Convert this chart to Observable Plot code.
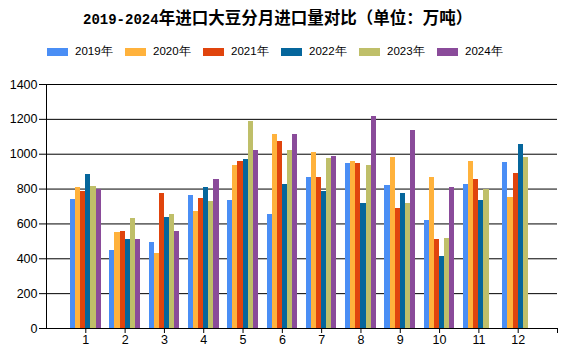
<!DOCTYPE html>
<html>
<head>
<meta charset="utf-8">
<script src="https://cdn.jsdelivr.net/npm/d3@7"></script>
<script src="https://cdn.jsdelivr.net/npm/@observablehq/plot@0.6"></script>
<style>
  body { margin: 0; background: #fff; }
  #wrap { position: relative; width: 567px; height: 355px; overflow: hidden; background: #fff; }
  #title { position: absolute; left: 83px; top: 6px; white-space: nowrap; font-family: "Noto Sans CJK SC", sans-serif; font-weight: 700; font-size: 16.5px; line-height: 22px; color: #000; }
  #title .num { font-family: "Liberation Mono", "DejaVu Sans Mono", monospace; font-size: 14px; font-weight: 700; }
  .leg { position: absolute; top: 43px; height: 17px; display: flex; align-items: center; font-family: "Liberation Sans", Arial, sans-serif; font-size: 11.5px; color: #000; white-space: nowrap; }
  .leg .sw { width: 21px; height: 8px; margin-right: 7px; }
  #chart { position: absolute; left: 0; top: 64px; }
</style>
</head>
<body>
<div id="wrap">
  <div id="title"><span class="num">2019-2024</span>年进口大豆分月进口量对比（单位：万吨）</div>
  <div id="legend"></div>
  <div id="chart"></div>
</div>
<script>
const months = [1,2,3,4,5,6,7,8,9,10,11,12];
const years = ["2019年","2020年","2021年","2022年","2023年","2024年"];
const colors = ["#4a8ef5","#ffb23c","#e0440d","#05669c","#bfbf69","#8a4b9a"];
const v2019 = [742, 449, 495, 765, 736, 656, 868, 949, 822, 622, 828, 954];
const v2020 = [807, 553, 432, 673, 937, 1115, 1012, 960, 983, 868, 960, 753];
const v2021 = [788, 558, 776, 748, 960, 1075, 868, 949, 690, 513, 857, 891];
const v2022 = [885, 513, 639, 811, 971, 828, 788, 719, 776, 415, 736, 1058];
const v2023 = [817, 633, 656, 727, 1190, 1023, 977, 937, 719, 518, 796, 983];
const v2024 = [797, 513, 558, 857, 1023, 1115, 989, 1218, 1138, 811];
const yTicks = [0,200,400,600,800,1000,1200,1400];

const series = [v2019, v2020, v2021, v2022, v2023, v2024];
const rows = [];
series.forEach((vals, i) => {
  vals.forEach((v, j) => rows.push({month: months[j], year: years[i], idx: i, value: v}));
});

const barW = 0.13;
const groupW = barW * years.length;

// legend
const legend = document.getElementById("legend");
years.forEach((y, i) => {
  const item = document.createElement("div");
  item.className = "leg";
  item.style.left = (47 + i * 78) + "px";
  item.innerHTML = `<span class="sw" style="background:${colors[i]}"></span><span>${y}</span>`;
  legend.appendChild(item);
});

const chart = Plot.plot({
  width: 567,
  height: 291,
  marginTop: 20,
  marginBottom: 27,
  marginLeft: 46,
  marginRight: 10,
  style: { fontFamily: "Liberation Sans, Arial, sans-serif", fontSize: "12.5px", color: "#000", background: "#fff" },
  x: { type: "linear", domain: [0, 13] },
  y: { domain: [0, 1400] },
  color: { domain: years, range: colors },
  marks: [
    Plot.ruleY(yTicks, { stroke: "#000", strokeWidth: 1 }),
    Plot.rectY(rows, {
      x1: d => d.month - groupW / 2 + d.idx * barW,
      x2: d => d.month - groupW / 2 + (d.idx + 1) * barW,
      y1: 0,
      y2: "value",
      fill: "year",
      shapeRendering: "crispEdges"
    }),
    Plot.ruleX([0], { stroke: "#000", strokeWidth: 1 }),
    Plot.axisY({ ticks: yTicks, tickSize: 7, tickPadding: 2, label: null, tickFormat: d => String(d), fill: "#000", fontSize: 12.5 }),
    Plot.axisX({ ticks: [...months, 13], tickSize: 5, tickPadding: 2, label: null, tickFormat: d => d <= 12 ? String(d) : "", fill: "#000", fontSize: 12.5 })
  ]
});
document.getElementById("chart").appendChild(chart);
</script>
</body>
</html>
